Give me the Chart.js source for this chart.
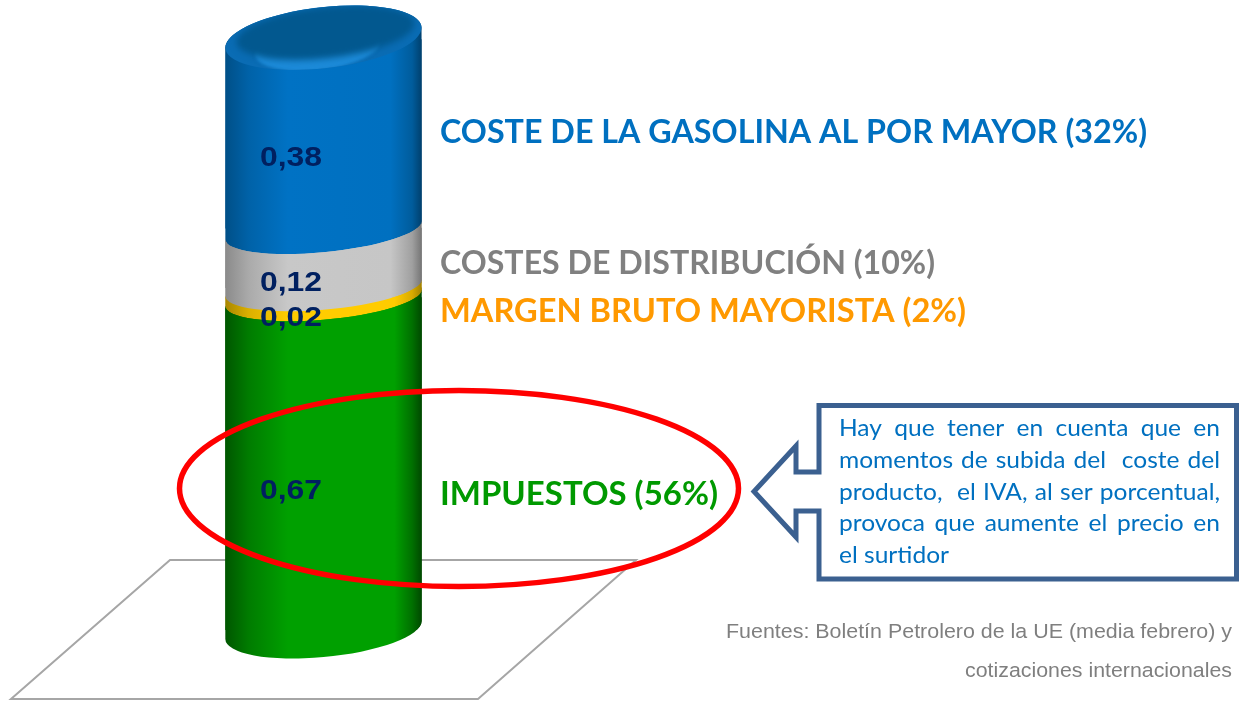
<!DOCTYPE html>
<html lang="es">
<head>
<meta charset="utf-8">
<title>Precio de la gasolina</title>
<script src="https://cdn.jsdelivr.net/npm/chart.js@4"></script>
<style>
  html, body { margin: 0; padding: 0; background: #fff; overflow: hidden; }
  canvas { display: block; }
</style>
</head>
<body>
<canvas id="chartCosts" width="1239" height="701"></canvas>
<script>
'use strict';

// ── Data ───────────────────────────────────────────────────────
const CATEGORIES   = ['Gasolina'];
const SERIES_NAMES = ['Impuestos', 'Margen bruto mayorista', 'Costes de distribución', 'Coste de la gasolina al por mayor'];
const IMPUESTOS    = [0.67];
const MARGEN       = [0.02];
const DISTRIBUCION = [0.12];
const COSTE        = [0.38];

const LEGEND_TEXTS = [
  'IMPUESTOS (56%)',
  'MARGEN BRUTO MAYORISTA (2%)',
  'COSTES DE DISTRIBUCIÓN (10%)',
  'COSTE DE LA GASOLINA AL POR MAYOR (32%)',
];
const NOTE_LINES = [
  'Hay que tener en cuenta que en',
  'momentos de subida del  coste del',
  'producto,  el IVA, al ser porcentual,',
  'provoca que aumente el precio en',
  'el surtidor',
];
const SOURCE_LINES = [
  'Fuentes: Boletín Petrolero de la UE (media febrero) y',
  'cotizaciones internacionales',
];

// ── Styles ─────────────────────────────────────────────────────
const Y_MAX = 1.27;
const RADIUS_X = 98.6;
// curvature of each ring, bottom of the cylinder first
const RINGS = [
  { b: 27, rot: -5.6, lift: 0 },
  { b: 22, rot: -5.0, lift: 0 },
  { b: 22, rot: -5.0, lift: 0 },
  { b: 22, rot: -5.6, lift: -2 },
  { b: 30.5, rot: -6.4, lift: 2 },
];

const GRADIENTS = [
  [[0, '#005600'], [0.12, '#007c00'], [0.32, '#00a000'], [0.86, '#00a000'], [0.95, '#007000'], [1, '#004800']],
  [[0, '#a88600'], [0.12, '#dcb000'], [0.32, '#ffcc00'], [0.86, '#ffcc00'], [0.95, '#d8aa00'], [1, '#a08000']],
  [[0, '#8a8a8a'], [0.12, '#aaaaaa'], [0.32, '#c8c8c8'], [0.84, '#c6c6c6'], [0.95, '#a0a0a0'], [1, '#747474']],
  [[0, '#004f87'], [0.12, '#0062a8'], [0.32, '#0072c4'], [0.84, '#0070c0'], [0.95, '#005c9c'], [1, '#003f6c']],
];
const LEGEND_STYLE = [
  { color: '#009900', x: 440, y: 505, width: 278 },
  { color: '#ff9900', x: 440, y: 322, width: 526 },
  { color: '#808080', x: 440, y: 274, width: 495 },
  { color: '#0070c0', x: 440, y: 143, width: 707 },
];
// the source chart nudged its value labels below the segment middle
const VALUE_OFFSETS = [26, 24, 24, 23];

// ── Helpers ────────────────────────────────────────────────────
function barGradient(chart, stops) {
  const area = chart.chartArea;
  if (!area) return stops[2][1];
  const g = chart.ctx.createLinearGradient(area.left, 0, area.right, 0);
  stops.forEach(s => g.addColorStop(s[0], s[1]));
  return g;
}

function barDataset(label, values, index) {
  return {
    label,
    data:            values,
    backgroundColor: c => barGradient(c.chart, GRADIENTS[index]),
    borderWidth:     0,
    stack:           'total',
  };
}

function fittedText(ctx, text, x, y, width, font, color) {
  ctx.save();
  ctx.font = font;
  ctx.fillStyle = color;
  ctx.textAlign = 'left';
  ctx.textBaseline = 'alphabetic';
  ctx.translate(x, y);
  ctx.scale(width / ctx.measureText(text).width, 1);
  ctx.fillText(text, 0, 0);
  ctx.restore();
}

function ringArc(ctx, cx, cy, ring, lowerHalf, forward) {
  const rot = ring.rot * Math.PI / 180;
  const t = Math.atan2(-ring.b * Math.sin(rot), RADIUS_X * Math.cos(rot));
  const y = cy - ring.lift;
  if (lowerHalf && forward) ctx.ellipse(cx, y, RADIUS_X, ring.b, rot, t, Math.PI + t, false);
  if (lowerHalf && !forward) ctx.ellipse(cx, y, RADIUS_X, ring.b, rot, Math.PI + t, t, true);
  if (!lowerHalf) ctx.ellipse(cx, y, RADIUS_X, ring.b, rot, Math.PI + t, 2 * Math.PI + t, false);
}

// one slice of the cylinder, curved along the rings at both ends
function bandPath(ctx, el, index, last) {
  ctx.beginPath();
  ringArc(ctx, el.x, el.y, RINGS[index + 1], index !== last, false);
  // one pixel of overlap so no white seam shows between slices
  ringArc(ctx, el.x, index === 0 ? el.base : el.base + 1, RINGS[index], true, true);
  ctx.closePath();
}

const cylinderPlugin = {
  id: 'cylinder',
  beforeDatasetDraw(chart, args) {
    const ctx = chart.ctx;
    const el = args.meta.data[0];
    ctx.save();
    bandPath(ctx, el, args.index, chart.data.datasets.length - 1);
    ctx.fillStyle = barGradient(chart, GRADIENTS[args.index]);
    ctx.fill();
    ctx.clip();
  },
  afterDatasetDraw(chart) {
    chart.ctx.restore();
  },
};

function drawGround(ctx) {
  ctx.save();
  ctx.strokeStyle = '#a6a6a6';
  ctx.lineWidth = 2;
  ctx.beginPath();
  ctx.moveTo(170, 560);
  ctx.lineTo(636, 560);
  ctx.lineTo(478, 699);
  ctx.lineTo(11, 699);
  ctx.closePath();
  ctx.stroke();
  ctx.restore();
}

function drawTopCap(ctx, el) {
  const ring = RINGS[RINGS.length - 1];
  const rot = ring.rot * Math.PI / 180;
  const cy = el.y - ring.lift;
  ctx.save();
  ctx.beginPath();
  ctx.ellipse(el.x, cy, RADIUS_X, ring.b, rot, 0, 2 * Math.PI);
  ctx.fillStyle = '#0a6cb4';
  ctx.fill();
  ctx.clip();
  ctx.filter = 'blur(1.5px)';
  ctx.beginPath();
  ctx.ellipse(el.x - 6, cy + 10, RADIUS_X - 36, ring.b - 8, rot, 0, 2 * Math.PI);
  ctx.fillStyle = '#1c8ad8';
  ctx.fill();
  ctx.filter = 'blur(3px)';
  ctx.beginPath();
  ctx.ellipse(el.x + 2, cy - 5, RADIUS_X - 9, ring.b - 5, rot, 0, 2 * Math.PI);
  ctx.fillStyle = '#02588f';
  ctx.fill();
  ctx.restore();
}

function drawValues(chart) {
  const ctx = chart.ctx;
  chart.data.datasets.forEach((ds, i) => {
    const el = chart.getDatasetMeta(i).data[0];
    const text = ds.data[0].toFixed(2).replace('.', ',');
    const y = (el.y + el.base) / 2 + VALUE_OFFSETS[i] + 9;
    fittedText(ctx, text, 260, y, 62, 'bold 28px "Liberation Sans"', '#002060');
  });
}

function drawLegendTexts(ctx) {
  LEGEND_TEXTS.forEach((text, i) => {
    const s = LEGEND_STYLE[i];
    fittedText(ctx, text, s.x, s.y, s.width, 'bold 33px Lato', s.color);
  });
}

function drawRing(ctx) {
  ctx.save();
  ctx.strokeStyle = '#ff0000';
  ctx.lineWidth = 5.5;
  ctx.beginPath();
  ctx.ellipse(459, 488.5, 279.5, 98, 0, 0, 2 * Math.PI);
  ctx.stroke();
  ctx.restore();
}

function drawNote(ctx) {
  ctx.save();
  ctx.strokeStyle = '#3b6090';
  ctx.fillStyle = '#ffffff';
  ctx.lineWidth = 5;
  ctx.lineJoin = 'miter';
  ctx.beginPath();
  [[819, 405.5], [1236.5, 405.5], [1236.5, 579], [819, 579], [819, 511], [796, 511], [796, 537],
    [754, 491.5], [796, 446], [796, 472], [819, 472]].forEach((p, i) => {
    if (i === 0) ctx.moveTo(p[0], p[1]); else ctx.lineTo(p[0], p[1]);
  });
  ctx.closePath();
  ctx.fill();
  ctx.stroke();
  ctx.restore();

  const font = '24px Lato';
  const color = '#0070c0';
  const left = 839;
  const right = 1220;
  ctx.font = font;
  // Lato runs wider than the original face, so squeeze it to the last line's width
  const squeeze = 110 / ctx.measureText(NOTE_LINES[4]).width;
  NOTE_LINES.forEach((line, i) => {
    const y = 436 + i * 31.8;
    if (i === NOTE_LINES.length - 1) {
      fittedText(ctx, line, left, y, 110, font, color);
      return;
    }
    const words = line.split(' ');
    ctx.font = font;
    const widths = words.map(w => ctx.measureText(w).width * squeeze);
    const total = widths.reduce((sum, w) => sum + w, 0);
    const gap = (right - left - total) / (words.length - 1);
    let x = left;
    words.forEach((word, j) => {
      if (word) fittedText(ctx, word, x, y, widths[j], font, color);
      x += widths[j] + gap;
    });
  });
}

function drawSource(ctx) {
  fittedText(ctx, SOURCE_LINES[0], 726, 638, 506, '20.5px "Liberation Sans"', '#7f7f7f');
  fittedText(ctx, SOURCE_LINES[1], 965, 677, 267, '20.5px "Liberation Sans"', '#7f7f7f');
}

const overlayPlugin = {
  id: 'overlay',
  beforeDatasetsDraw(chart) {
    drawGround(chart.ctx);
  },
  afterDatasetsDraw(chart) {
    const ctx = chart.ctx;
    drawTopCap(ctx, chart.getDatasetMeta(chart.data.datasets.length - 1).data[0]);
    drawValues(chart);
    drawLegendTexts(ctx);
    drawRing(ctx);
    drawNote(ctx);
    drawSource(ctx);
  },
};

// ── Chart ──────────────────────────────────────────────────────
new Chart(document.getElementById('chartCosts').getContext('2d'), {
  type: 'bar',
  data: {
    labels:   CATEGORIES,
    datasets: [
      barDataset(SERIES_NAMES[0], IMPUESTOS, 0),
      barDataset(SERIES_NAMES[1], MARGEN, 1),
      barDataset(SERIES_NAMES[2], DISTRIBUCION, 2),
      barDataset(SERIES_NAMES[3], COSTE, 3),
    ],
  },
  options: {
    responsive:  false,
    animation:   false,
    layout:      { padding: { left: 225, right: 817, top: 0, bottom: 71 } },
    plugins:     { legend: { display: false }, tooltip: { enabled: false } },
    datasets:    { bar: { barPercentage: 1, categoryPercentage: 1 } },
    scales: {
      x: { display: false, stacked: true },
      y: { display: false, stacked: true, min: 0, max: Y_MAX },
    },
  },
  plugins: [cylinderPlugin, overlayPlugin],
});
</script>
</body>
</html>
